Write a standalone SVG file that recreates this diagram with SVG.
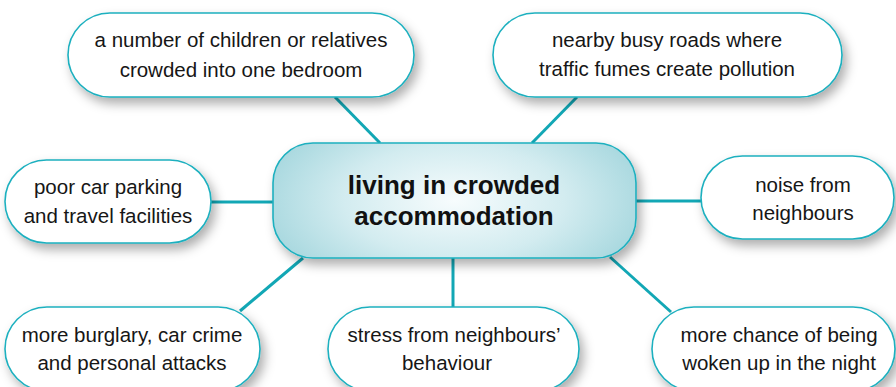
<svg xmlns="http://www.w3.org/2000/svg" width="896" height="387" viewBox="0 0 896 387">
  <defs>
    <filter id="sh" x="-20%" y="-30%" width="140%" height="170%">
      <feDropShadow dx="4" dy="6" stdDeviation="5.5" flood-color="#000" flood-opacity="0.32"/>
    </filter>
    <radialGradient id="cg" cx="0.5" cy="0.5" r="0.55" gradientTransform="translate(0.5 0.5) scale(1 1.6) translate(-0.5 -0.5)">
      <stop offset="0" stop-color="#f7fcfd"/>
      <stop offset="0.55" stop-color="#d3ecf0"/>
      <stop offset="1" stop-color="#a6d7de"/>
    </radialGradient>
  </defs>
  <style>
    .node { fill: #ffffff; stroke: #1eb0bf; stroke-width: 1.6; filter: url(#sh); }
    .center { fill: url(#cg); stroke: #1eb0bf; stroke-width: 1.6; filter: url(#sh); }
    .t { font-family: "Liberation Sans", Arial, sans-serif; font-size: 20.5px; fill: #161616; text-anchor: middle; }
    .tb { font-family: "Liberation Sans", Arial, sans-serif; font-size: 26px; font-weight: bold; fill: #111111; text-anchor: middle; }
    .c { stroke: #12a7b5; stroke-width: 3; fill: none; }
  </style>
  <rect width="896" height="387" fill="#ffffff"/>
  <g id="connectors">
    <line class="c" x1="335" y1="97" x2="380" y2="143"/>
    <line class="c" x1="577" y1="97" x2="532" y2="143"/>
    <line class="c" x1="211" y1="202" x2="273" y2="202"/>
    <line class="c" x1="636" y1="201" x2="701" y2="201"/>
    <line class="c" x1="303" y1="258" x2="240" y2="311"/>
    <line class="c" x1="453" y1="258" x2="453" y2="307"/>
    <line class="c" x1="610" y1="257" x2="671" y2="312"/>
  </g>
  <g id="center">
    <rect class="center" x="273" y="143" width="363" height="115" rx="40" ry="40"/>
    <text class="tb" x="454" y="194">living in crowded</text>
    <text class="tb" x="454" y="225">accommodation</text>
  </g>
  <g id="n-bedroom">
    <rect class="node" x="68" y="13" width="346" height="84" rx="42" ry="42"/>
    <text class="t" x="241" y="47">a number of children or relatives</text>
    <text class="t" x="241" y="77">crowded into one bedroom</text>
  </g>
  <g id="n-roads">
    <rect class="node" x="493" y="13" width="349" height="84" rx="42" ry="42"/>
    <text class="t" x="667" y="47">nearby busy roads where</text>
    <text class="t" x="667" y="76">traffic fumes create pollution</text>
  </g>
  <g id="n-parking">
    <rect class="node" x="5" y="160" width="206" height="83" rx="41.5" ry="41.5"/>
    <text class="t" x="108" y="194">poor car parking</text>
    <text class="t" x="108" y="223">and travel facilities</text>
  </g>
  <g id="n-noise">
    <rect class="node" x="701" y="156" width="193" height="83" rx="41.5" ry="41.5"/>
    <text class="t" x="803" y="192">noise from</text>
    <text class="t" x="803" y="220">neighbours</text>
  </g>
  <g id="n-burglary">
    <rect class="node" x="5" y="307" width="255" height="84" rx="42" ry="42"/>
    <text class="t" x="132" y="342">more burglary, car crime</text>
    <text class="t" x="132" y="370">and personal attacks</text>
  </g>
  <g id="n-stress">
    <rect class="node" x="328" y="307" width="251" height="84" rx="42" ry="42"/>
    <text class="t" x="454" y="342">stress from neighbours’</text>
    <text class="t" x="447" y="370">behaviour</text>
  </g>
  <g id="n-woken">
    <rect class="node" x="652" y="307" width="243" height="84" rx="42" ry="42"/>
    <text class="t" x="779" y="342">more chance of being</text>
    <text class="t" x="779" y="370">woken up in the night</text>
  </g>
</svg>
